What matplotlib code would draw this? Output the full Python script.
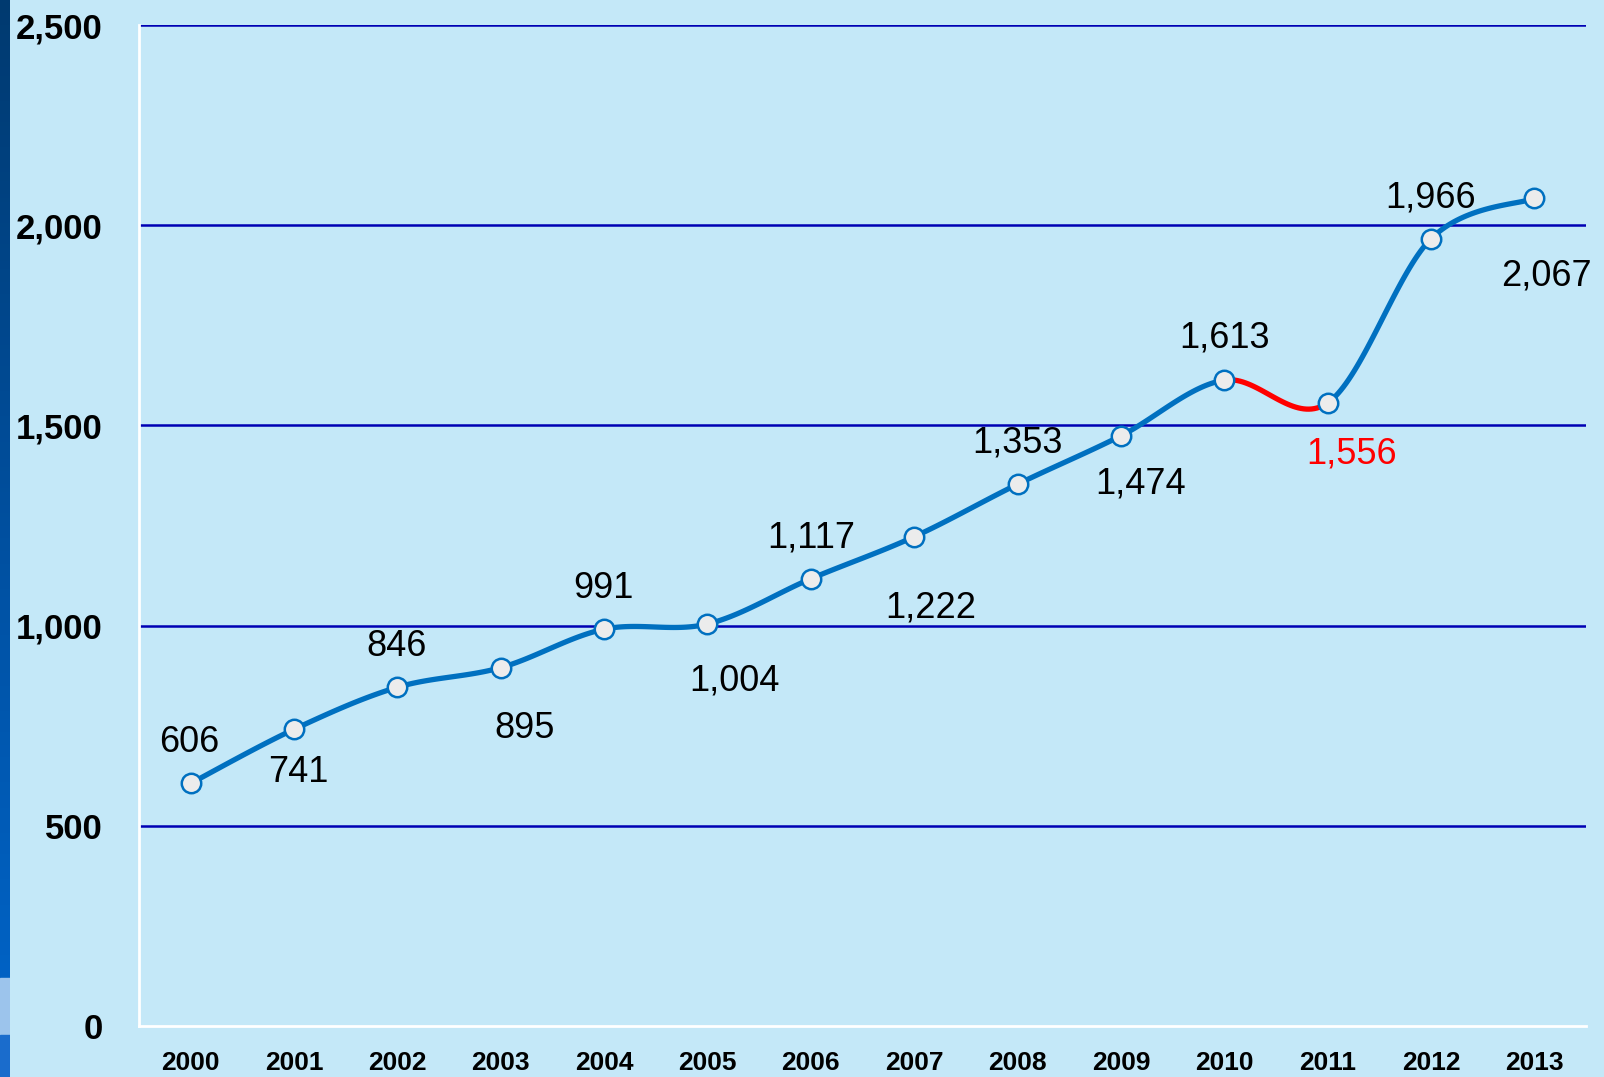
import numpy as np
import matplotlib.pyplot as plt
from matplotlib.colors import LinearSegmentedColormap

# data
years = ['2000', '2001', '2002', '2003', '2004', '2005', '2006',
         '2007', '2008', '2009', '2010', '2011', '2012', '2013']
values = [606, 741, 846, 895, 991, 1004, 1117, 1222, 1353, 1474, 1613, 1556, 1966, 2067]
drop_segment = (10, 11)  # the 2010 -> 2011 fall is drawn in red

# label offsets from each point (pixels), above/below alternately
label_dx = [-1, 4, -1, 23, -1, 26, 0, 16, 0, 19, 0, 23, 0, 12]
label_dy = [40, -42, 40, -60, 40, -56, 40, -70, 40, -47, 41, -50, 40, -76]

bg = '#c4e8f8'
line_blue = '#0070c0'
grid_blue = '#0000b4'

plt.rcParams['font.family'] = ['Liberation Sans', 'DejaVu Sans']

fig = plt.figure(figsize=(16.04, 10.77), dpi=100)
fig.patch.set_facecolor(bg)

# dark blue strip on the left edge
strip = fig.add_axes([0, 0, 10 / 1604, 1])
grad = np.linspace(0, 1, 256).reshape(-1, 1)
cmap = LinearSegmentedColormap.from_list('strip', ['#003a70', '#0050a0', '#0066cc'])
strip.imshow(grad, aspect='auto', cmap=cmap, extent=[0, 1, 0, 1], origin='upper')
strip.axhspan(0.039, 0.092, color='#9cc4ec')
strip.axhspan(0.0, 0.039, color='#1a6ccc')
strip.set_xlim(0, 1)
strip.set_ylim(0, 1)
strip.axis('off')

ax = fig.add_axes([139 / 1604, 1 - 1026 / 1077, (1586 - 139) / 1604, (1026 - 25) / 1077])
ax.set_facecolor(bg)

x = np.arange(len(years))
y = np.array(values, dtype=float)


# Excel-style smoothed line (bezier through the points)
def smooth_segment(i):
    p0 = np.array([x[max(i - 1, 0)], y[max(i - 1, 0)]])
    p1 = np.array([x[i], y[i]])
    p2 = np.array([x[i + 1], y[i + 1]])
    p3 = np.array([x[min(i + 2, len(x) - 1)], y[min(i + 2, len(x) - 1)]])
    c1 = p1 + (p2 - p0) / 6
    c2 = p2 - (p3 - p1) / 6
    t = np.linspace(0, 1, 40)[:, None]
    pts = (1 - t) ** 3 * p1 + 3 * (1 - t) ** 2 * t * c1 + 3 * (1 - t) * t ** 2 * c2 + t ** 3 * p2
    return pts[:, 0], pts[:, 1]


for i in range(len(x) - 1):
    sx, sy = smooth_segment(i)
    col = 'red' if (i, i + 1) == drop_segment else line_blue
    ax.plot(sx, sy, color=col, lw=3.8, solid_capstyle='round', zorder=3)

ax.plot(x, y, 'o', ms=14, mfc='#ececec', mec=line_blue, mew=1.8, zorder=4)

for i, v in enumerate(values):
    col = 'red' if i == drop_segment[1] else 'black'
    ax.annotate(f'{v:,}', (x[i], y[i]), xytext=(label_dx[i] * 1.02, label_dy[i] * 1.02),
                textcoords='offset pixels', ha='center', va='center',
                fontsize=26, color=col, zorder=5)

ax.set_xlim(-0.5, len(years) - 0.5)
ax.set_ylim(0, 2500)
ax.set_xticks(x)
ax.set_xticklabels(years, fontsize=19, fontweight='bold')
ax.set_yticks(np.arange(0, 2501, 500))
ax.set_yticklabels([f'{t:,}' for t in range(0, 2501, 500)], fontsize=25, fontweight='bold')
ax.tick_params(axis='both', length=0)
ax.tick_params(axis='x', pad=18)
ax.tick_params(axis='y', pad=26)

for t in range(500, 2501, 500):
    ax.axhline(t, color=grid_blue, lw=1.8, zorder=1)

for side in ['top', 'right']:
    ax.spines[side].set_visible(False)
for side in ['left', 'bottom']:
    ax.spines[side].set_color('white')
    ax.spines[side].set_linewidth(2)

fig.savefig('out.png', dpi=100, facecolor=bg)
